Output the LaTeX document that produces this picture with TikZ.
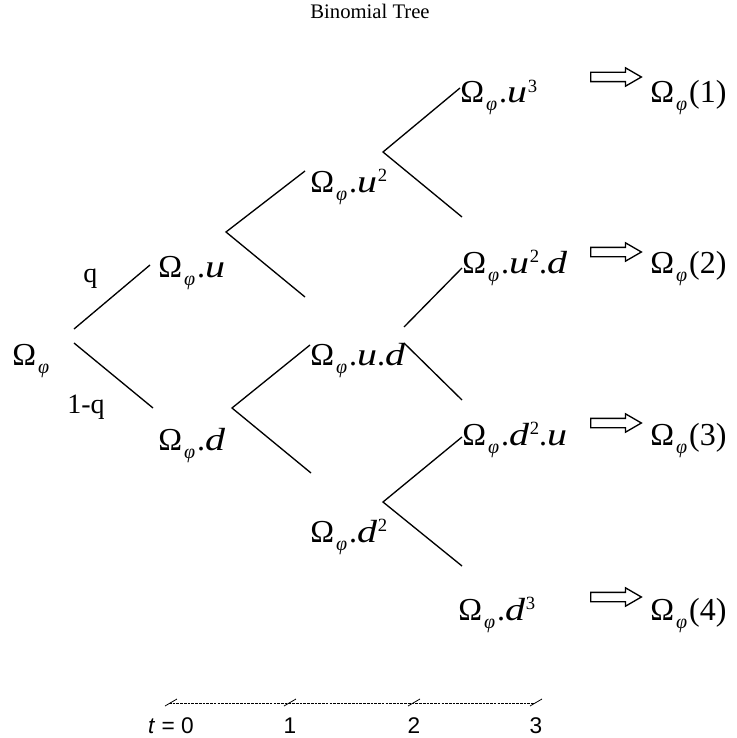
\documentclass[tikz,border=0pt]{standalone}
\usepackage{fontspec}
\setmainfont{Liberation Serif}
\newfontfamily\axfont{Liberation Sans}
\usetikzlibrary{shapes.arrows}

\newcommand{\omphi}{Ω\hspace{1.5pt}\raisebox{-6pt}{\fontsize{15}{15}\selectfont\itshape φ}\hspace{1.5pt}}
\newcommand{\supx}[1]{\hspace{0.5pt}\raisebox{8pt}{\fontsize{14}{14}\selectfont #1}}
\newcommand{\vu}{\scalebox{1.25}[1]{\itshape u}}
\newcommand{\vd}{\scalebox{1.25}[1]{\itshape d}}

\begin{document}
\begin{tikzpicture}[x=0.75pt, y=-0.75pt,
	font=\fontsize{24}{27}\selectfont,
	br/.style={line width=1pt},
	lab/.style={anchor=base west, inner sep=0pt},
	darrow/.style={single arrow, draw, line width=1pt, inner xsep=0pt, inner ysep=3pt,
		minimum height=38pt, single arrow head extend=3.4pt, single arrow tip angle=60},
	tk/.style={font=\axfont\fontsize{17}{19}\selectfont, anchor=base, inner sep=0pt}]
	\useasboundingbox (0,0) rectangle (737,738);

	% ---------- title ----------
	\node[anchor=base, inner sep=0pt, font=\fontsize{15.5}{18}\selectfont] (title) at (370,19) {Binomial Tree};

	% ---------- tree nodes ----------
	\node[lab] (root) at (12,365)  {\omphi};
	\node[lab] (nu)   at (158,277) {\omphi.\vu};
	\node[lab] (nd)   at (158,450) {\omphi.\vd};
	\node[lab] (nuu)  at (310,192) {\omphi.\vu\supx{2}};
	\node[lab] (nud)  at (310,365) {\omphi.\vu.\vd};
	\node[lab] (ndd)  at (310,542) {\omphi.\vd\supx{2}};
	\node[lab] (nuuu) at (460,103) {\omphi.\vu\supx{3}};
	\node[lab] (nuud) at (462,273) {\omphi.\vu\supx{2}.\vd};
	\node[lab] (nddu) at (462,445) {\omphi.\vd\supx{2}.\vu};
	\node[lab] (nddd) at (458,620) {\omphi.\vd\supx{3}};
	\node[lab, font=\fontsize{21}{24}\selectfont] (pq)  at (83,282) {q};
	\node[lab, font=\fontsize{21}{24}\selectfont] (pnq) at (67,413) {1-q};

	% ---------- fork points and branch ends ----------
	\coordinate (r0u) at (74,329);   \coordinate (r0d) at (74,343);
	\coordinate (ku)  at (150,265);  \coordinate (kd)  at (153,408);
	\coordinate (v1u) at (226,232);  \coordinate (v1d) at (232,408);
	\coordinate (e1)  at (305,171);  \coordinate (e2)  at (305,297);
	\coordinate (e3)  at (310,345);  \coordinate (e4)  at (311,473);
	\coordinate (v2a) at (383,152);  \coordinate (v2c) at (383,502);
	\coordinate (v2u) at (404,327);  \coordinate (v2d) at (404,343);
	\coordinate (e5)  at (460,88);   \coordinate (e6)  at (462,217);
	\coordinate (e7)  at (462,268);  \coordinate (e8)  at (462,400);
	\coordinate (e9)  at (462,437);  \coordinate (e10) at (462,566);

	\draw[br] (r0u) -- (ku);
	\draw[br] (r0d) -- (kd);
	\draw[br] (e1) -- (v1u) -- (e2);
	\draw[br] (e3) -- (v1d) -- (e4);
	\draw[br] (e5) -- (v2a) -- (e6);
	\draw[br] (v2u) -- (e7);
	\draw[br] (v2d) -- (e8);
	\draw[br] (e9) -- (v2c) -- (e10);

	% ---------- outcomes ----------
	\foreach \i/\y/\b in {1/77/103,2/252/273,3/423/445,4/597/620}{
		\node[darrow] (a\i) at (612,\y) {};
		\node[lab] (o\i) at (650,\b) {\omphi(\i)};
	}

	% ---------- time axis ----------
	\coordinate (t0) at (169,703);
	\coordinate (t3) at (534,703);
	\draw[line width=0.6pt, dash pattern=on 2pt off 0.8pt] (t0) -- (t3);
	\foreach \i/\x/\s in {0/171/{\textit{t} = 0},1/290/1,2/414/2,3/536/3}{
		\draw[line width=0.6pt] (\x-6,706) -- (\x+6,699);
		\node[tk] (l\i) at (\x,733) {\s};
	}
\end{tikzpicture}
\end{document}
